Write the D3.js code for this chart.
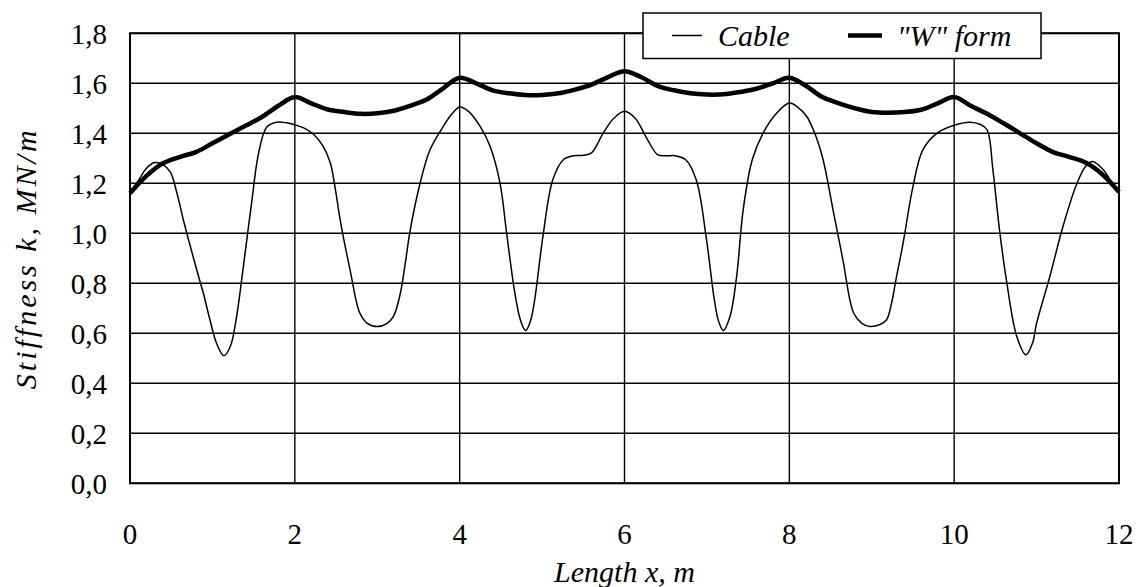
<!DOCTYPE html>
<html><head><meta charset="utf-8">
<script src="https://cdn.jsdelivr.net/npm/d3@7"></script>
<style>body{margin:0;background:#fff}</style>
</head><body><svg id="c" width="1138" height="587"></svg>
<script>
const xTicks = [0, 2, 4, 6, 8, 10, 12];
const yTicks = [0, 0.2, 0.4, 0.6, 0.8, 1.0, 1.2, 1.4, 1.6, 1.8];
const seriesNames = ["Cable", "\"W\" form"];
const xTitle = "Length x, m";
const yTitle = "Stiffness k, MN/m";

const cableX = [0,0.1,0.2,0.3,0.4,0.49,0.57,0.65,0.73,0.81,0.89,0.97,1.05,1.14,1.22,1.29,1.37,1.48,1.56,1.66,1.78,1.9,2.0,2.12,2.23,2.34,2.43,2.49,2.55,2.67,2.79,2.88,3.0,3.12,3.2,3.28,3.34,3.40,3.52,3.64,3.80,3.9,4.0,4.1,4.25,4.37,4.49,4.57,4.67,4.74,4.80,4.86,4.91,5.01,5.13,5.26,5.38,5.5,5.6,5.74,5.87,6.0,6.13,6.27,6.4,6.5,6.62,6.74,6.87,6.99,7.09,7.14,7.2,7.28,7.36,7.44,7.55,7.68,7.85,8.0,8.1,8.21,8.32,8.41,8.53,8.65,8.78,8.88,8.98,9.1,9.18,9.24,9.3,9.38,9.5,9.62,9.79,10.02,10.19,10.32,10.4,10.47,10.55,10.64,10.76,10.87,10.95,11.0,11.16,11.32,11.49,11.6,11.68,11.81,11.9,12.0];
const cableY = [1.165,1.21,1.26,1.283,1.275,1.245,1.16,1.05,0.95,0.853,0.76,0.654,0.56,0.51,0.55,0.66,0.853,1.134,1.32,1.425,1.444,1.442,1.434,1.42,1.395,1.35,1.282,1.18,1.054,0.854,0.68,0.64,0.627,0.64,0.67,0.76,0.88,1.013,1.2,1.334,1.427,1.475,1.505,1.49,1.427,1.347,1.2,1.0,0.76,0.65,0.611,0.65,0.734,0.987,1.214,1.295,1.31,1.312,1.322,1.4,1.46,1.488,1.46,1.38,1.315,1.31,1.31,1.295,1.214,0.987,0.734,0.65,0.611,0.667,0.826,1.094,1.294,1.4,1.482,1.521,1.505,1.468,1.39,1.294,1.094,0.894,0.681,0.64,0.627,0.635,0.654,0.72,0.826,0.96,1.187,1.334,1.4,1.434,1.444,1.435,1.414,1.254,1.014,0.8,0.587,0.514,0.56,0.64,0.826,1.027,1.2,1.27,1.287,1.254,1.21,1.162];

const wX = [0,0.2,0.4,0.6,0.8,1.0,1.2,1.4,1.6,1.8,2.0,2.2,2.4,2.6,2.8,3.0,3.2,3.4,3.6,3.8,4.0,4.2,4.4,4.6,4.8,5.0,5.2,5.4,5.6,5.8,6.0,6.2,6.4,6.6,6.8,7.0,7.2,7.4,7.6,7.8,8.0,8.2,8.4,8.6,8.8,9.0,9.2,9.4,9.6,9.8,10.0,10.2,10.4,10.6,10.8,11.0,11.2,11.4,11.6,11.8,12.0];
const wY = [1.16,1.23,1.28,1.305,1.325,1.36,1.395,1.43,1.465,1.51,1.545,1.52,1.495,1.485,1.478,1.48,1.49,1.51,1.535,1.58,1.622,1.60,1.572,1.56,1.553,1.553,1.56,1.575,1.595,1.625,1.648,1.625,1.59,1.572,1.56,1.555,1.556,1.565,1.578,1.60,1.622,1.59,1.545,1.52,1.50,1.485,1.482,1.485,1.494,1.52,1.545,1.51,1.478,1.44,1.40,1.36,1.325,1.305,1.282,1.235,1.165];

const svg = d3.select("#c");
const L = 130, R = 1119, T = 33.3, B = 483.3;
const x = d3.scaleLinear().domain([0, 12]).range([L, R]);
const y = d3.scaleLinear().domain([0, 1.8]).range([B, T]);
const fmt = d => d3.format(".1f")(d).replace(".", ",");
const FAM = "\"Liberation Serif\", \"FreeSerif\", \"Tinos\", \"Times New Roman\", \"DejaVu Serif\"";
const serif = sel => sel.style("font-family", FAM);

// grid
svg.append("g").selectAll("line").data(yTicks).join("line")
  .attr("x1", L).attr("x2", R).attr("y1", d => y(d)).attr("y2", d => y(d))
  .attr("stroke", "#000").attr("stroke-width", 1.4);
svg.append("g").selectAll("line").data(xTicks).join("line")
  .attr("y1", T).attr("y2", B).attr("x1", d => x(d)).attr("x2", d => x(d))
  .attr("stroke", "#000").attr("stroke-width", 1.4);
svg.append("rect").attr("x", L).attr("y", T).attr("width", R - L).attr("height", B - T)
  .attr("fill", "none").attr("stroke", "#000").attr("stroke-width", 2);

// tick labels (positioned by the scales)
serif(svg.append("g").selectAll("text").data(yTicks).join("text")
  .attr("x", L - 23).attr("y", d => y(d)).attr("dy", "0.36em").attr("text-anchor", "end")
  .attr("font-size", 29).text(fmt));
serif(svg.append("g").selectAll("text").data(xTicks).join("text")
  .attr("x", d => x(d)).attr("y", 544).attr("text-anchor", "middle")
  .attr("font-size", 29).text(d => d));

serif(svg.append("text").attr("x", (L + R) / 2).attr("y", 582).attr("text-anchor", "middle")
  .attr("font-size", 30).style("font-style", "italic").text(xTitle));
serif(svg.append("text").attr("transform", `translate(36,${(T + B) / 2}) rotate(-90)`).attr("text-anchor", "middle")
  .attr("font-size", 30).style("font-style", "italic").attr("letter-spacing", 3).text(yTitle));

// lines
const pts = (xs, ys) => xs.map((v, i) => [v, ys[i]]);
const line = d3.line().x(d => x(d[0])).y(d => y(d[1])).curve(d3.curveCatmullRom.alpha(0.5));
svg.append("path").datum(pts(cableX, cableY)).attr("d", line).attr("fill", "none")
  .attr("stroke", "#000").attr("stroke-width", 1.5);
svg.append("path").datum(pts(wX, wY)).attr("d", line).attr("fill", "none")
  .attr("stroke", "#000").attr("stroke-width", 4.5).attr("stroke-linejoin", "round");

// legend
const lg = svg.append("g");
lg.append("rect").attr("x", 643).attr("y", 13).attr("width", 398).attr("height", 45.5)
  .attr("fill", "#fff").attr("stroke", "#000").attr("stroke-width", 1.5);
lg.append("line").attr("x1", 672).attr("x2", 702).attr("y1", 35.5).attr("y2", 35.5).attr("stroke", "#000").attr("stroke-width", 1.5);
serif(lg.append("text").attr("x", 718).attr("y", 46).attr("font-size", 30).style("font-style", "italic").text(seriesNames[0]));
lg.append("line").attr("x1", 848).attr("x2", 882).attr("y1", 35.5).attr("y2", 35.5).attr("stroke", "#000").attr("stroke-width", 4.5);
serif(lg.append("text").attr("x", 897).attr("y", 46).attr("font-size", 30).style("font-style", "italic").text(seriesNames[1]));
</script></body></html>
